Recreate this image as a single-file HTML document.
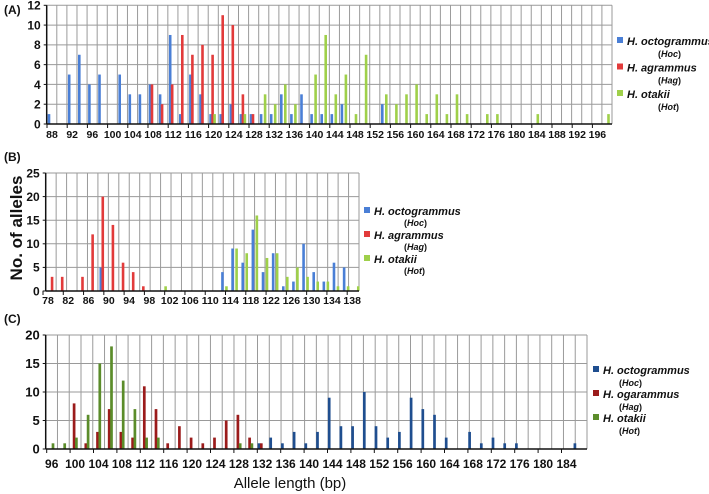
<!DOCTYPE html>
<html><head><meta charset="utf-8"><style>
html,body{margin:0;padding:0;background:#fff;width:709px;height:494px;overflow:hidden}
svg{display:block}
text{font-family:"Liberation Sans",sans-serif}
</style></head><body>
<svg id="chart" width="709" height="494" viewBox="0 0 709 494" xmlns="http://www.w3.org/2000/svg"></svg>
<script>
// ===== Panel A data =====
const aOctoLen = [88,92,94,96,98,102,104,106,108,110,112,114,116,118,120,122,124,126,128,130,132,134,136,138,140,142,144,146,154];
const aOctoCount = [1,5,7,4,5,5,3,3,4,3,9,1,5,3,1,1,2,1,1,1,1,3,1,3,1,1,1,2,2];
const aAgraLen = [108,110,112,114,116,118,120,122,124,126,128];
const aAgraCount = [4,2,4,9,7,8,7,11,10,3,1];
const aOtakLen = [120,126,130,132,134,136,140,142,144,146,148,150,154,156,158,160,162,164,166,168,170,174,176,184,198];
const aOtakCount = [1,1,3,2,4,2,5,9,3,5,1,7,3,2,3,4,1,3,1,3,1,1,1,1,1];
const aXLabels = [88,92,96,100,104,108,112,116,120,124,128,132,136,140,144,148,152,156,160,164,168,172,176,180,184,188,192,196];
const aYTicks = [0,2,4,6,8,10,12];
// ===== Panel B data =====
const bOctoLen = [89,113,115,117,119,121,123,125,127,129,131,133,135,137];
const bOctoCount = [5,4,9,6,13,4,8,1,2,10,4,2,6,5];
const bAgraLen = [79,81,85,87,89,91,93,95,97];
const bAgraCount = [3,3,3,12,20,14,6,4,1];
const bOtakLen = [101,113,115,117,119,121,123,125,127,129,131,133,135,137,139];
const bOtakCount = [1,1,9,8,16,7,8,3,5,3,2,2,1,1,1];
const bXLabels = [78,82,86,90,94,98,102,106,110,114,118,122,126,130,134,138];
const bYTicks = [0,5,10,15,20,25];
// ===== Panel C data =====
const cOctoLen = [132,134,136,138,140,142,144,146,148,150,152,154,156,158,160,162,164,168,170,172,174,176,186];
const cOctoCount = [1,2,1,3,1,3,9,4,4,10,4,2,3,9,7,6,2,3,1,2,1,1,1];
const cOgarLen = [100,102,104,106,108,110,112,114,116,118,120,122,124,126,128,130,132];
const cOgarCount = [8,1,3,7,3,2,11,7,1,4,2,1,2,5,6,2,1];
const cOtakLen = [96,98,100,102,104,106,108,110,112,114,128,130];
const cOtakCount = [1,1,2,6,15,18,12,7,2,2,1,1];
const cXLabels = [96,100,104,108,112,116,120,124,128,132,136,140,144,148,152,156,160,164,168,172,176,180,184];
const cYTicks = [0,5,10,15,20];

const NS = "http://www.w3.org/2000/svg";
const svg = document.getElementById('chart');
function mk(tag, attrs, parent){
  const e = document.createElementNS(NS, tag);
  for (const k in attrs) e.setAttribute(k, attrs[k]);
  (parent||svg).appendChild(e);
  return e;
}

function drawPanel(p){
  const g = mk('g', {});
  
  
  const xs = bp => p.x0 + (bp - p.bp0) * p.k;
  const ys = v => p.bottom - v / p.yMax * (p.bottom - p.top);
  p.yTicks.forEach(t => {
    const y = ys(t);
    if (t > 0) {
      const l = mk('line', {x1:p.left, x2:p.right, y1:y, y2:y, stroke:'#9a9a9a', 'stroke-width':1}, g);
      
      
    }
    const tl = mk('text', {x:p.left-6, y:y+p.yFont*0.36, 'text-anchor':'end', 'font-size':p.yFont, 'font-weight':'bold', fill:'#111'}, g);
    tl.textContent = t;
    
    
  });
  const step = (p.right - p.left) / p.gridN;
  for (let i = 1; i <= p.gridN; i++) {
    const x = p.left + i * step;
    const l = mk('line', {x1:x, x2:x, y1:p.top, y2:p.bottom, stroke:'#9a9a9a', 'stroke-width':1}, g);
    
    
  }
  p.series.forEach(s => {
    s.len.forEach((bp, i) => {
      const v = s.val[i];
      const cx = xs(bp) + s.off;
      const r = mk('rect', {x:cx - p.bw/2, y:ys(v), width:p.bw, height:p.bottom - ys(v), fill:s.color}, g);
      
      
    });
  });
  const ax = mk('line', {x1:p.left, x2:p.right, y1:p.bottom, y2:p.bottom, stroke:'#111', 'stroke-width':1.5}, g);
  
  
  const ay = mk('line', {x1:p.left, x2:p.left, y1:p.top, y2:p.bottom, stroke:'#111', 'stroke-width':1.5}, g);
  
  
  p.yTicks.forEach(t => {
    const tk = mk('line', {x1:p.left-3, x2:p.left, y1:ys(t), y2:ys(t), stroke:'#111', 'stroke-width':1}, g);
    
    
  });
  p.xLabels.forEach(bp => {
    const x = xs(bp);
    const tk = mk('line', {x1:x-5, x2:x-5, y1:p.bottom, y2:p.bottom+4, stroke:'#111', 'stroke-width':1}, g);
    
    
    const tl = mk('text', {x:x, y:p.labelY, 'text-anchor':'middle', 'font-size':p.xFont, 'font-weight':'bold', fill:'#111'}, g);
    tl.textContent = bp;
    
    
  });
  const names = p.legendNames;
  p.series.forEach((s, i) => {
    const ly = p.legY + i * p.legGap;
    const sq = mk('rect', {x:p.legX, y:ly-4, width:6, height:6, fill:s.color}, g);
    
    
    const t1 = mk('text', {x:p.legX+10, y:ly+4, 'font-size':p.legFont, 'font-weight':'bold', 'font-style':'italic', fill:'#111'}, g);
    t1.textContent = names[i][0];
    
    
    const t2 = mk('text', {x:p.legX+p.subDx, y:ly+4+p.subDy, 'font-size':p.legFont-2, 'font-weight':'bold', fill:'#111'}, g);
    t2.innerHTML = '(<tspan font-style="italic">' + names[i][1] + '</tspan>)';
    
    
  });
  const pl = mk('text', {x:p.tagX, y:p.tagY, 'font-size':12, 'font-weight':'bold', fill:'#111'}, g);
  pl.textContent = p.tag;
  
  
}

const lightCols = ['#4a7fd6','#e23b3b','#9fd04a'];
const darkCols = ['#1f4e8f','#9b1b1b','#5b8c2a'];

drawPanel({name:'panel-a', tag:'(A)', tagX:4, tagY:14, left:46.7, right:612, top:5.3, bottom:124, yMax:12, yTicks:aYTicks,
  x0:52, bp0:88, k:5.05, gridN:56, bw:2.6, xLabels:aXLabels, labelY:138, xFont:10.5, yFont:12,
  series:[{key:'hoc',len:aOctoLen,val:aOctoCount,color:lightCols[0],off:-3},
          {key:'hag',len:aAgraLen,val:aAgraCount,color:lightCols[1],off:-1},
          {key:'hot',len:aOtakLen,val:aOtakCount,color:lightCols[2],off:1}],
  legendNames:[['H. octogrammus','Hoc'],['H. agrammus','Hag'],['H. otakii','Hot']],
  legX:617, legY:41, legGap:26.5, legFont:11, subDx:41, subDy:12});

drawPanel({name:'panel-b', tag:'(B)', tagX:4, tagY:161, left:45.7, right:359, top:173, bottom:291, yMax:25, yTicks:bYTicks,
  x0:48, bp0:78, k:5.07, gridN:30, bw:2.6, xLabels:bXLabels, labelY:304, xFont:10.5, yFont:12,
  series:[{key:'hoc',len:bOctoLen,val:bOctoCount,color:lightCols[0],off:-3},
          {key:'hag',len:bAgraLen,val:bAgraCount,color:lightCols[1],off:-1},
          {key:'hot',len:bOtakLen,val:bOtakCount,color:lightCols[2],off:1}],
  legendNames:[['H. octogrammus','Hoc'],['H. agrammus','Hag'],['H. otakii','Hot']],
  legX:364, legY:211, legGap:24, legFont:11, subDx:40, subDy:11});

drawPanel({name:'panel-c', tag:'(C)', tagX:4, tagY:323, left:45.7, right:587, top:335, bottom:449, yMax:20, yTicks:cYTicks,
  x0:51.7, bp0:96, k:5.85, gridN:46, bw:2.7, xLabels:cXLabels, labelY:468, xFont:12, yFont:13,
  series:[{key:'hoc',len:cOctoLen,val:cOctoCount,color:darkCols[0],off:-3.3},
          {key:'hag',len:cOgarLen,val:cOgarCount,color:darkCols[1],off:-1},
          {key:'hot',len:cOtakLen,val:cOtakCount,color:darkCols[2],off:1.3}],
  legendNames:[['H. octogrammus','Hoc'],['H. ogarammus','Hag'],['H. otakii','Hot']],
  legX:593, legY:370, legGap:24, legFont:11, subDx:26, subDy:12});

const yt = mk('text', {x:0, y:0, transform:'translate(22,228) rotate(-90)', 'text-anchor':'middle', 'font-size':17, 'font-weight':'bold', fill:'#111'});
yt.textContent = 'No. of alleles';


const xt = mk('text', {x:290, y:488, 'text-anchor':'middle', 'font-size':15, fill:'#111'});
xt.textContent = 'Allele length (bp)';


</script>
</body></html>
